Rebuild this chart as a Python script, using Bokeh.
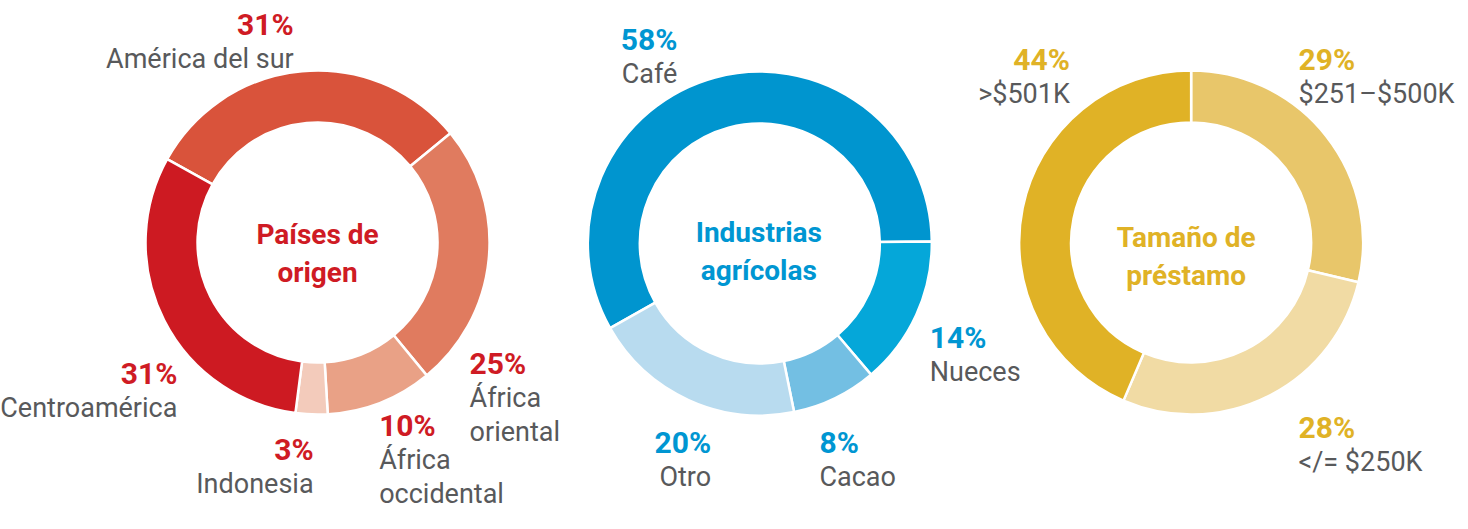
import math
from bokeh.plotting import figure
from bokeh.models import Range1d, ColumnDataSource
from bokeh.core.properties import value
from bokeh.embed import file_html
from bokeh.resources import INLINE

# ---------------- data ----------------
origin_categories = ["América del sur", "África oriental", "África occidental", "Indonesia", "Centroamérica"]
origin_values = [31, 25, 10, 3, 31]

industry_categories = ["Café", "Nueces", "Cacao", "Otro"]
industry_values = [58, 14, 8, 20]

loan_categories = ["$251–$500K", "</= $250K", ">$501K"]
loan_values = [29, 28, 44]

titles = [["Países de", "origen"], ["Industrias", "agrícolas"], ["Tamaño de", "préstamo"]]

# ---------------- layout / style ----------------
FONT = "Roboto"
GRAY = "#58595B"
PCT_SIZE = "30px"
LABEL_SIZE = "27px"
TITLE_SIZE = "28px"
charts = [
    dict(cats=origin_categories, vals=origin_values, center=(321, 250), start=151,
         colors=["#D9533B", "#E07B5F", "#E9A186", "#F3CBBB", "#CD1A22"], text_color="#CF1B24",
         title_pos=(321, 242),
         labels=[(297, 32, "right"), (474, 371, "left"), (383, 433, "left"), (317, 457, "right"), (180, 381, "right")]),
    dict(cats=industry_categories, vals=industry_values, center=(766, 251), start=209.5,
         colors=["#0095CF", "#05A7D9", "#73BFE3", "#B8DBEF"], text_color="#0096D2",
         title_pos=(765, 240),
         labels=[(683, 47, "right"), (937, 345, "left"), (826, 450, "left"), (717, 450, "right")]),
    dict(cats=loan_categories, vals=loan_values, center=(1200, 250), start=90,
         colors=["#E8C66A", "#F1DBA4", "#E0B226"], text_color="#E0B226",
         title_pos=(1195, 245),
         labels=[(1308, 67, "left"), (1308, 435, "left"), (1078, 67, "right")]),
]
WRAP = {"África oriental", "África occidental"}
LINE = 34
TITLE_LINE = 38

p = figure(width=1456, height=513, x_range=Range1d(2, 1467), y_range=Range1d(-521, -8),
           output_backend="svg", toolbar_location=None, min_border=0,
           x_axis_type=None, y_axis_type=None)
p.grid.visible = False
p.outline_line_color = None
p.background_fill_color = "white"
p.border_fill_color = "white"

for ch in charts:
    total = sum(ch["vals"])
    a = ch["start"]
    xs, ys, st, en = [], [], [], []
    for v in ch["vals"]:
        span = v / total * 360.0
        xs.append(ch["center"][0]); ys.append(-ch["center"][1])
        st.append(math.radians(a)); en.append(math.radians(a - span))
        a -= span
    src = ColumnDataSource(dict(x=xs, y=ys, start=st, end=en, color=ch["colors"]))
    p.annular_wedge(x="x", y="y", inner_radius=120, outer_radius=172,
                    inner_radius_units="screen", outer_radius_units="screen",
                    start_angle="start", end_angle="end", direction="clock",
                    fill_color="color", line_color="white", line_width=2.5, source=src)

    # percentages and category labels
    for cat, v, (lx, ly, al) in zip(ch["cats"], ch["vals"], ch["labels"]):
        p.text(x=[lx], y=[-ly], text=[f"{v}%"], text_align=al, text_baseline="alphabetic",
               text_font=value(FONT), text_font_size=PCT_SIZE, text_font_style="bold",
               text_color=ch["text_color"])
        lines = cat.split(" ", 1) if cat in WRAP else [cat]
        for i, ln in enumerate(lines):
            p.text(x=[lx], y=[-(ly + LINE * (i + 1))], text=[ln], text_align=al,
                   text_baseline="alphabetic", text_font=value(FONT), text_font_size=LABEL_SIZE,
                   text_color=GRAY)

for ch, t in zip(charts, titles):
    tx, ty = ch["title_pos"]
    for i, ln in enumerate(t):
        p.text(x=[tx], y=[-(ty + TITLE_LINE * i)], text=[ln], text_align="center",
               text_baseline="alphabetic", text_font=value(FONT), text_font_size=TITLE_SIZE,
               text_font_style="bold", text_color=ch["text_color"])

open("out.html", "w").write(file_html(p, INLINE))
